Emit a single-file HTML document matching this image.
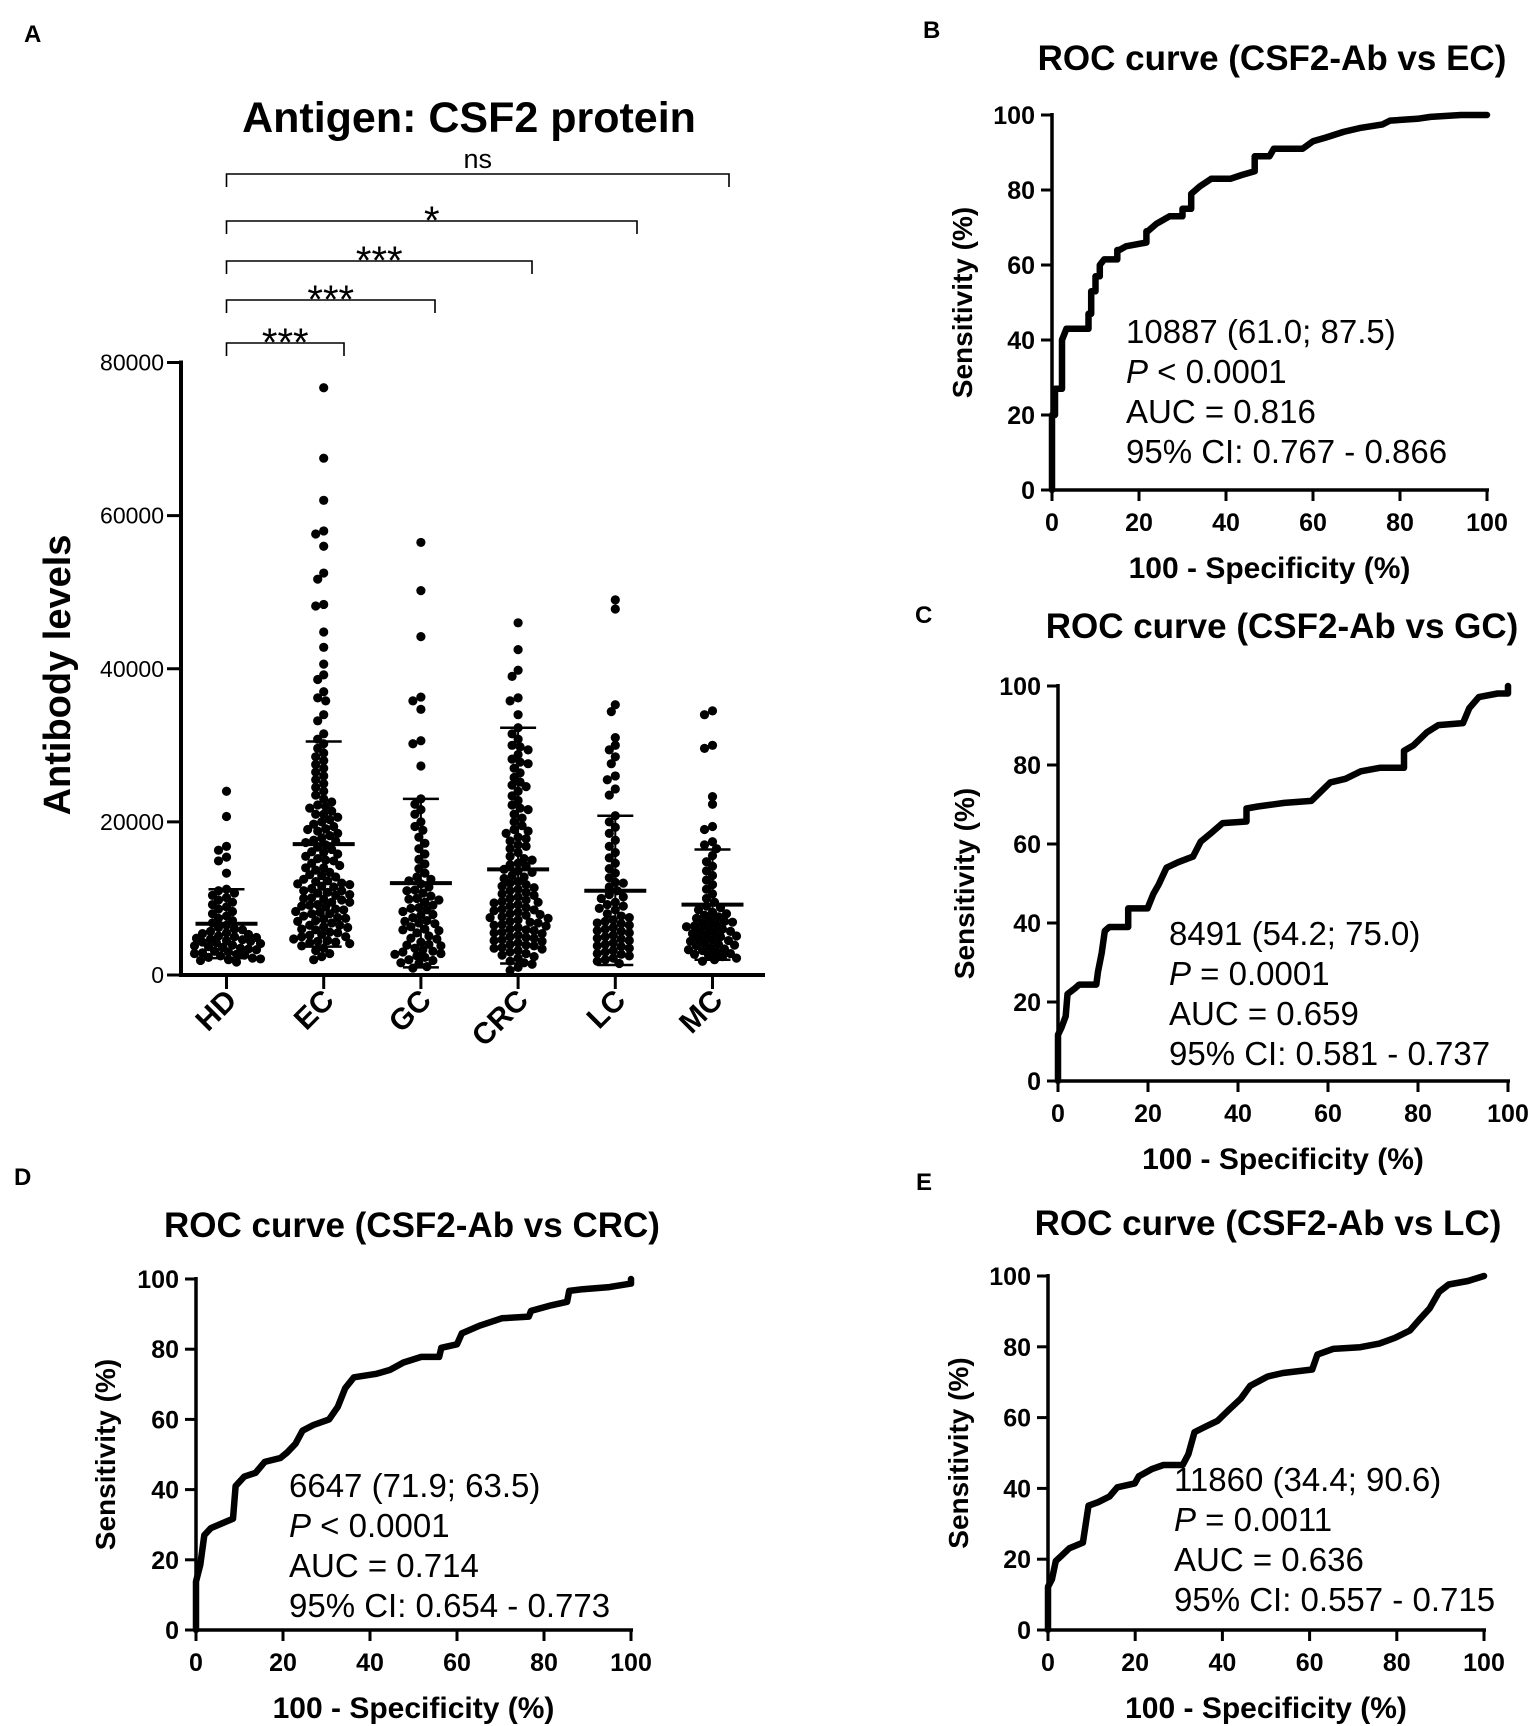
<!DOCTYPE html>
<html><head><meta charset="utf-8">
<style>
html,body{margin:0;padding:0;background:#fff;}
svg{display:block;font-family:"Liberation Sans",Arial,sans-serif;}
</style></head>
<body>
<svg id="fig" width="1535" height="1726" viewBox="0 0 1535 1726" xmlns="http://www.w3.org/2000/svg">
<rect width="1535" height="1726" fill="#fff"/>
<g id="panelA"></g>
<g id="panelB"></g>
<g id="panelC"></g>
<g id="panelD"></g>
<g id="panelE"></g>
</svg>
<script>
// ---------- Panel A data ----------
const categories = ["HD","EC","GC","CRC","LC","MC"];
const yTicksA = [0,20000,40000,60000,80000];
const valsHD = [24000,20700,16800,16300,15400,14900,13300,11200,11000,10700,10400,10100,9800,9500,9200,8900,8600,8300,8000,7700,7400,7100,6800,6500,6200,5900,5700,5500,5300,5100,4900,4700,4500,4300,4100,3900,3700,3500,3300,3100,2900,2700,2500,2300,2100,1900,1700,5000,4600,4200,3800,3400,3000,2600,2200,6000,5400,4800,4400,3600,2800,2000];
const valsEC = [76700,67500,62000,58000,57600,56000,52500,51700,48400,48200,44800,42800,40600,39200,38600,37000,36200,35800,34000,33200,31500,30800,30200,29600,29000,28500,28000,27500,27000,26500,26000,25500,25000,24500,24000,23500,23000,22600,22200,21800,21400,21000,20600,20300,20000,19700,19400,19100,18800,18500,18200,17900,17600,17300,17000,16700,16400,16100,15800,15500,15200,14900,14600,14300,14000,13700,13400,13100,12800,12500,12200,11900,11600,11300,11000,10700,10400,10100,9800,9500,9200,8900,8600,8300,8000,7700,7400,7100,6800,6500,6200,5900,5600,5300,5000,4700,4400,4100,3800,3500,3200,2800,2400,2000,12000,11500,11000,10500,10000,9500,9000,8500,8000,7500,7000,6500,6000,5500,5000,4500,4200,13000,14000,15000,16000,17500,19000,21000,22000,12300,11800,10800,9900,9100,8200,7300,6300,5200,4300];
const valsGC = [56500,50200,44200,36300,35800,34700,30600,30200,27300,23000,22300,21600,21000,20000,19400,18900,18000,17200,16500,15800,15100,14500,13900,13300,12800,12300,11900,11500,11100,10700,10300,9900,9500,9100,8700,8300,7900,7500,7100,6700,6300,5900,5500,5100,4700,4300,3900,3500,3100,2700,2300,1900,1500,1100,900,12500,11000,9800,8800,7800,6800,5800,4800,3800,2800,3300,2500,2000,1600,10000,8500,7000,6000,4000,3000];
const valsCRC = [46000,42500,39800,39000,36200,35800,34000,32300,31500,30800,30000,29400,28800,28200,27600,27000,26400,25800,25200,24600,24000,23400,22800,22200,21600,21000,20500,20000,19500,19000,18500,18000,17500,17000,16500,16000,15500,15000,14600,14200,13800,13400,13000,12600,12200,11800,11400,11000,10600,10200,9800,9400,9000,8600,8200,7800,7400,7000,6600,6200,5800,5400,5000,4600,4200,3800,3400,3000,2600,2200,1800,1400,1000,600,15200,14400,13600,12800,12000,11200,10400,9600,8800,8000,7200,6400,5600,4800,4000,3200,2400,1600,11600,10800,10000,9200,8400,7600,6800,6000,5200,4400,3600,2800,8500,7500,6500,5500,4500,3500,9500,7900,6900,5900,4900,3900,18800,17800,16800,21800,24800,27800,29800];
const valsLC = [49000,47800,35300,34400,31000,30000,29400,28500,27600,26000,25500,24300,23500,20800,20000,19300,18500,17600,16800,16000,15300,14600,13900,13300,12700,12100,11500,11000,10500,10000,9500,9000,8500,8000,7500,7000,6500,6000,5500,5000,4500,4000,3500,3000,2500,2000,1500,12000,10200,8700,7700,6700,5700,4700,3700,2700,1800,9200,7200,5200,3200,2200,6200,4200,6800,5800,4800,3800,2800];
const valsMC = [34500,34000,30000,29600,23300,22300,19400,19000,17400,17000,16500,15600,14800,14200,13600,13000,12400,11800,11200,10600,10000,9500,9000,8500,8000,7600,7200,6800,6400,6000,5600,5200,4800,4400,4000,3600,3200,2800,2400,2000,1800,7800,7000,6200,5400,4600,3800,3000,2200,6600,5800,5000,4200,3400,2600,8800,8200,7400,6900,6300,5700,5100,4500,3900,3300,2700];
const groupMeans = [6700,17100,12000,13800,11000,9200];
const sdUpper = [11200,30500,23000,32300,20800,16400];
const sdLower = [2200,3700,1000,1500,1300,2000];
const sigLabels = ["***","***","***","*","ns"];

// ---------- ROC data ----------
const rocB_fpr = [0,0,0.7,0.7,2.3,2.3,3.3,8.4,8.4,9,9,10,10,11,11,12,15,15,15.5,17,21.7,21.7,22,24,27,30,30,32,32,34,36.6,41,43.6,46.6,46.6,50,51,57.6,60,63,67,70.7,76,77.7,84,87,94,100];
const rocB_tpr = [0,20,20,27,27,40,43,43,47,47,53,53,57,57,60,61.5,61.5,64,64,65,66,69,69,71,73,73,75,75,79,81,83,83,84,85,89,89,91,91,93,94,95.5,96.5,97.5,98.5,99,99.5,100,100];
const rocC_fpr = [0,0,0.8,1.7,2.1,3.8,4.7,8.5,8.9,9.7,10.4,11.4,15.6,15.6,19.9,21.2,22.4,24.1,26.7,30,31.7,34.3,36.6,41.9,41.9,44.4,50.3,56.3,58,60.5,63.9,67.3,71.5,76.9,76.9,79,82,84.5,90,91.4,93.5,97.7,100,100];
const rocC_tpr = [0,11.7,13.6,16.4,22,23.5,24.4,24.4,27.7,32.4,38,39,39,43.7,43.7,47.4,49.8,54,55.4,56.8,60.6,63,65.3,65.7,69,69.5,70.4,70.9,72.8,75.6,76.5,78.4,79.3,79.3,83.6,85,88.3,90.1,90.6,94.4,97.2,98.1,98.1,100];
const rocD_fpr = [0,0,1,1.9,3.4,6.4,8.5,9.1,11.1,13.7,15.8,19.4,20.9,22.9,24.5,27,30.6,32.6,34.3,36.3,41.5,44.6,47.7,51.8,55.9,56.4,60,61.1,65.2,70.3,76.5,77,81.7,85.3,85.8,88.9,95,100,100];
const rocD_tpr = [0,13.8,18.6,27,29,30.6,31.7,41,43.7,44.8,47.9,49,50.5,53.1,56.8,58.4,60,63.6,68.9,72,73,74.1,76.2,77.8,77.8,80.4,81.4,84.5,86.7,88.8,89.3,90.9,92.5,93.5,96.6,97.1,97.7,98.7,100];
const rocE_fpr = [0,0,0.9,1.8,3.1,4.9,8,9.3,11.5,14.1,15.9,19.9,20.8,23.9,26.5,30.9,32.2,33.6,36.2,38.9,41.5,44.2,46.4,50.4,53.9,60.6,61.8,65.4,71.6,76,79.5,83,85.2,87.5,89.7,91.9,96.3,100];
const rocE_tpr = [0,12.2,14.3,19.5,21,23.1,24.7,35.1,36.1,37.7,40.3,41.4,43.4,45.5,46.6,46.6,49.7,55.9,57.5,59.1,62.2,65.3,69,71.6,72.6,73.6,77.8,79.4,79.9,80.9,82.5,84.6,87.7,90.8,95.5,97.6,98.6,100];
const rocTicks = [0,20,40,60,80,100];

const NS = "http://www.w3.org/2000/svg";
function mk(parent, tag, attrs, text){
  const el = document.createElementNS(NS, tag);
  for (const k in attrs) el.setAttribute(k, attrs[k]);
  if (text !== undefined) el.textContent = text;
  parent.appendChild(el);
  return el;
}

// ---------- Panel A ----------
(function(){
  const g = document.getElementById('panelA');
  const AX = 181, Y0 = 975, Y80 = 362.5, XEND = 765;
  const centers0 = 226.5, step = 97.2;
  const yA = v => Y0 - v * (Y0 - Y80) / 80000;
  const xA = i => centers0 + i * step;
  const groups = [valsHD, valsEC, valsGC, valsCRC, valsLC, valsMC];

  let t = mk(g,'text',{x:24,y:42,'font-size':24,'font-weight':'bold'},'A');
  
  
  t = mk(g,'text',{x:469,y:132,'font-size':43,'font-weight':'bold','text-anchor':'middle'},'Antigen: CSF2 protein');
  
  

  t = mk(g,'text',{x:0,y:0,'font-size':38,'font-weight':'bold','text-anchor':'middle',transform:'translate(70,675) rotate(-90)'},'Antibody levels');
  
  

  let a = mk(g,'line',{x1:AX,y1:Y80-2,x2:AX,y2:Y0+2,stroke:'#000','stroke-width':4});
  
  
  a = mk(g,'line',{x1:AX-2,y1:Y0,x2:XEND,y2:Y0,stroke:'#000','stroke-width':4});
  
  
  yTicksA.forEach(v=>{
    const tk = mk(g,'line',{x1:AX-14,y1:yA(v),x2:AX,y2:yA(v),stroke:'#000','stroke-width':3});
    
    
    const lb = mk(g,'text',{x:AX-17,y:yA(v)+8,'font-size':23,'text-anchor':'end'},String(v));
    
    
  });
  categories.forEach((c,i)=>{
    const tk = mk(g,'line',{x1:xA(i),y1:Y0,x2:xA(i),y2:Y0+14,stroke:'#000','stroke-width':3});
    
    
    const lb = mk(g,'text',{x:0,y:0,'font-size':30,'font-weight':'bold','text-anchor':'end',transform:`translate(${xA(i)+12},${1002}) rotate(-45)`},c);
    
    
  });

  const R = 4.6, MIND = 7.5, MAXOFF = 34;
  groups.forEach((vals,gi)=>{
    const cx = xA(gi);
    const gg = mk(g,'g',{});
    
    
    const placed = [];
    const sorted = vals.slice().sort((p,q)=>q-p);
    sorted.forEach(v=>{
      const y = yA(v);
      let best = cx, bestD = -1, found = false;
      for (let k=0;k<=MAXOFF;k++){
        const off = (k%2===0?1:-1)*Math.ceil(k/2)*2;
        if (Math.abs(off) > MAXOFF) break;
        const tx = cx + off;
        let md = 1e9;
        for (const p of placed){
          const dx=p[0]-tx, dy=p[1]-y;
          const dd = Math.sqrt(dx*dx+dy*dy);
          if (dd < md) md = dd;
        }
        if (md >= MIND){best = tx; found = true; break;}
        if (md > bestD){bestD = md; best = tx;}
      }
      placed.push([best,y]);
      const d = mk(gg,'circle',{cx:best,cy:y,r:R,fill:'#000'});
      
      
    });
    const m = mk(g,'line',{x1:cx-31,y1:yA(groupMeans[gi]),x2:cx+31,y2:yA(groupMeans[gi]),stroke:'#000','stroke-width':4});
    
    
    const s = mk(g,'line',{x1:cx,y1:yA(sdUpper[gi]),x2:cx,y2:yA(sdLower[gi]),stroke:'#000','stroke-width':2});
    
    
    [sdUpper[gi], sdLower[gi]].forEach(v=>{
      const c = mk(g,'line',{x1:cx-18,y1:yA(v),x2:cx+18,y2:yA(v),stroke:'#000','stroke-width':2.5});
      
      
    });
  });

  const brY = [343,300,261,221,174];
  const brEnd = [344,435,532,637,729];
  sigLabels.forEach((lab,i)=>{
    const x1 = xA(0), x2 = brEnd[i], y = brY[i];
    const p = mk(g,'path',{d:`M${x1},${y+13} V${y} H${x2} V${y+13}`,fill:'none',stroke:'#000','stroke-width':1.6});
    
    
    const isNs = lab==='ns';
    const tx = mk(g,'text',{x:(x1+x2)/2,y:isNs?y-6:y+13,'font-size':isNs?27:40,'text-anchor':'middle'},lab);
    
    
  });
})();

// ---------- ROC panels ----------
function drawROC(id, cfg, fpr, tpr){
  const g = document.getElementById(id);
  const xs = v => cfg.x0 + v*(cfg.x1-cfg.x0)/100;
  const ys = v => cfg.y0 - v*(cfg.y0-cfg.y1)/100;
  let t = mk(g,'text',{x:cfg.lx,y:cfg.ly,'font-size':24,'font-weight':'bold'},cfg.letter);
  
  
  t = mk(g,'text',{x:cfg.tx,y:cfg.ty,'font-size':35,'font-weight':'bold','text-anchor':'middle'},cfg.title);
  
  
  t = mk(g,'text',{x:0,y:0,'font-size':28,'font-weight':'bold','text-anchor':'middle',transform:`translate(${cfg.yx},${(cfg.y0+cfg.y1)/2}) rotate(-90)`},'Sensitivity (%)');
  
  
  t = mk(g,'text',{x:(cfg.x0+cfg.x1)/2,y:cfg.y0+88,'font-size':30,'font-weight':'bold','text-anchor':'middle'},'100 - Specificity (%)');
  
  
  let a = mk(g,'line',{x1:cfg.x0,y1:cfg.y1-2,x2:cfg.x0,y2:cfg.y0+2,stroke:'#000','stroke-width':3.5});
  
  
  a = mk(g,'line',{x1:cfg.x0-2,y1:cfg.y0,x2:cfg.x1+2,y2:cfg.y0,stroke:'#000','stroke-width':3.5});
  
  
  rocTicks.forEach(v=>{
    let tk = mk(g,'line',{x1:cfg.x0-11,y1:ys(v),x2:cfg.x0,y2:ys(v),stroke:'#000','stroke-width':3});
    
    
    let lb = mk(g,'text',{x:cfg.x0-17,y:ys(v)+9,'font-size':25,'font-weight':'bold','text-anchor':'end'},String(v));
    
    
    tk = mk(g,'line',{x1:xs(v),y1:cfg.y0,x2:xs(v),y2:cfg.y0+11,stroke:'#000','stroke-width':3});
    
    
    lb = mk(g,'text',{x:xs(v),y:cfg.y0+41,'font-size':25,'font-weight':'bold','text-anchor':'middle'},String(v));
    
    
  });
  const d = fpr.map((f,i)=>(i?'L':'M')+xs(f).toFixed(1)+','+ys(tpr[i]).toFixed(1)).join(' ');
  const p = mk(g,'path',{d:d,fill:'none',stroke:'#000','stroke-width':6.5,'stroke-linejoin':'round','stroke-linecap':'round'});
  
  
  cfg.lines.forEach((ln,i)=>{
    const tx = mk(g,'text',{x:cfg.ax,y:cfg.ay+i*40,'font-size':33},'');
    
    
    if (ln[0]==='P'){
      mk(tx,'tspan',{'font-style':'italic'},'P');
      mk(tx,'tspan',{},ln.slice(1));
    } else tx.textContent = ln;
  });
}
drawROC('panelB',{letter:'B',lx:923,ly:38,title:'ROC curve (CSF2-Ab vs EC)',tx:1272,ty:70,x0:1052,x1:1487,y0:490,y1:115,yx:972,ax:1126,ay:343,
  lines:['10887 (61.0; 87.5)','P < 0.0001','AUC = 0.816','95% CI: 0.767 - 0.866']}, rocB_fpr, rocB_tpr);
drawROC('panelC',{letter:'C',lx:915,ly:623,title:'ROC curve (CSF2-Ab vs GC)',tx:1282,ty:638,x0:1058,x1:1508,y0:1081,y1:686,yx:974,ax:1169,ay:945,
  lines:['8491 (54.2; 75.0)','P = 0.0001','AUC = 0.659','95% CI: 0.581 - 0.737']}, rocC_fpr, rocC_tpr);
drawROC('panelD',{letter:'D',lx:14,ly:1185,title:'ROC curve (CSF2-Ab vs CRC)',tx:412,ty:1237,x0:196,x1:631,y0:1630,y1:1279,yx:115,ax:289,ay:1497,
  lines:['6647 (71.9; 63.5)','P < 0.0001','AUC = 0.714','95% CI: 0.654 - 0.773']}, rocD_fpr, rocD_tpr);
drawROC('panelE',{letter:'E',lx:916,ly:1190,title:'ROC curve (CSF2-Ab vs LC)',tx:1268,ty:1235,x0:1048,x1:1484,y0:1630,y1:1276,yx:968,ax:1174,ay:1491,
  lines:['11860 (34.4; 90.6)','P = 0.0011','AUC = 0.636','95% CI: 0.557 - 0.715']}, rocE_fpr, rocE_tpr);
</script>
</body></html>
